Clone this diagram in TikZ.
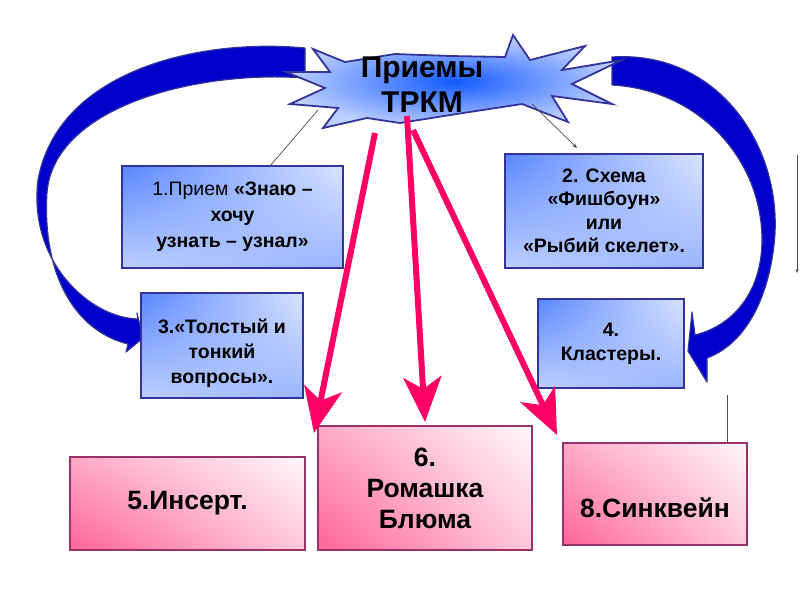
\documentclass[tikz,border=0pt]{standalone}
\usepackage{fontspec}
\setmainfont{Liberation Sans}
\usetikzlibrary{arrows.meta,shadings}
\definecolor{bluefill}{RGB}{0,0,204}
\definecolor{blueline}{RGB}{51,51,153}
\definecolor{pinkarrow}{RGB}{255,0,102}
\definecolor{pinkline}{RGB}{153,51,102}
\definecolor{boxblue}{RGB}{70,120,255}
\definecolor{boxpink}{RGB}{255,100,150}
\definecolor{starblue}{RGB}{20,90,255}
\definecolor{starlight}{RGB}{190,208,255}
\begin{document}
\begin{tikzpicture}[x=1pt,y=-1pt,
 bluebox/.style={draw=blueline, line width=2.5pt, shade,
   upper left=boxblue!90!white, upper right=boxblue!20!white,
   lower left=boxblue!35!white, lower right=boxblue!55!white,
   align=center, font=\fontsize{19.5}{26}\selectfont\bfseries, inner sep=0pt},
 pinkbox/.style={draw=pinkline, line width=2pt, shade,
   lower left=boxpink, upper right=boxpink!5!white,
   upper left=boxpink!55!white, lower right=boxpink!35!white,
   align=center, font=\fontsize{26.5}{31}\selectfont\bfseries, inner sep=0pt},
 band/.style={fill=bluefill, draw=blueline, line width=1.2pt, line join=round},
 pinkarr/.style={draw=pinkarrow, line width=6pt,
   -{Stealth[length=45pt,width=38pt,inset=12pt]}},
 thinline/.style={draw=black!70, line width=0.7pt}
]
\useasboundingbox (0,0) rectangle (800,600);

% left curved band arrow
\path[band] (305,48) .. controls (200,38) and (58,70) .. (38,180)
  .. controls (28,262) and (90,318) .. (138,319)
  -- (137,313) -- (143,338) -- (126,352) -- (128,344)
  .. controls (72,330) and (42,270) .. (47,192)
  .. controls (55,105) and (200,70) .. (305,78) -- cycle;

% right curved band arrow
\path[band] (612,57) .. controls (720,50) and (785,150) .. (774,245)
  .. controls (767,305) and (742,345) .. (707,358)
  -- (707,382) -- (688,351) -- (692,312) -- (695,335)
  .. controls (735,325) and (762,290) .. (762,240)
  .. controls (762,160) and (700,90) .. (612,85) -- cycle;

% star
\shadedraw[inner color=starblue, outer color=starlight, draw=blueline,
  line width=1.8pt, line join=miter]
  (286,72) -- (330,72) -- (313,49) -- (345,62) -- (395,54) -- (450,56)
  -- (505,57) -- (513,35) -- (530,60) -- (585,46) -- (562,70) -- (622,60)
  -- (572,84) -- (612,104) -- (552,96) -- (568,122) -- (522,104)
  -- (463,113) -- (400,123) -- (367,118) -- (323,128) -- (338,108)
  -- (290,104) -- (325,88) -- cycle;
\node[align=center, font=\fontsize{30}{35}\selectfont\bfseries, inner sep=0pt]
  (star) at (422,84.5) {Приемы\\ТРКМ};

% boxes
\node[bluebox, minimum width=221pt, minimum height=102pt] (b1) at (232.5,217)
  {{\mdseries 1.Прием} «Знаю –\\хочу\\узнать – узнал»};
\node[bluebox, minimum width=198pt, minimum height=114pt,
  font=\fontsize{19.5}{23.5}\selectfont\bfseries] (b2) at (604,211)
  {2. Схема\\«Фишбоун»\\или\\«Рыбий скелет».};
\node[bluebox, minimum width=162pt, minimum height=105pt,
  font=\fontsize{19.5}{25}\selectfont\bfseries] (b3) at (222,345.5)
  {\rule{0pt}{31pt}3.«Толстый и\\тонкий\\вопросы».};
\node[bluebox, minimum width=146pt, minimum height=89pt,
  font=\fontsize{19.5}{24}\selectfont\bfseries] (b4) at (611,343.5)
  {4.\\Кластеры.};
\node[pinkbox, minimum width=235pt, minimum height=93pt] (b5) at (187.5,503.5)
  {5.Инсерт.};
\node[pinkbox, minimum width=214pt, minimum height=124pt] (b6) at (425,488)
  {6.\\Ромашка\\Блюма};
\node[pinkbox, minimum width=184pt, minimum height=102pt] (b8) at (655,494)
  {\rule{0pt}{48pt}8.Синквейн};

% thin connectors
\coordinate (s1) at (318,110);
\coordinate (e1) at (270,166);
\draw[thinline] (s1) -- (e1);
\coordinate (s2) at (532,104);
\coordinate (e2) at (577,148);
\draw[thinline, -{Stealth[length=5pt,width=4pt]}] (s2) -- (e2);
\coordinate (l8) at (727,395);
\draw[thinline] (l8) -- (l8 |- b8.north);
\coordinate (r1) at (797,155);
\coordinate (r2) at (797,273);
\draw[thinline, -{Stealth[length=4pt,width=3pt]}] (r1) -- (r2);

% pink arrows
\coordinate (pa) at (375,133);
\coordinate (ta) at (314,433);
\coordinate (pb) at (407,116);
\coordinate (tb) at (425,422);
\coordinate (pc) at (413,130);
\coordinate (tc) at (557,435);
\draw[pinkarr] (pa) -- (ta);
\draw[pinkarr] (pb) -- (tb);
\draw[pinkarr] (pc) -- (tc);
\end{tikzpicture}
\end{document}
